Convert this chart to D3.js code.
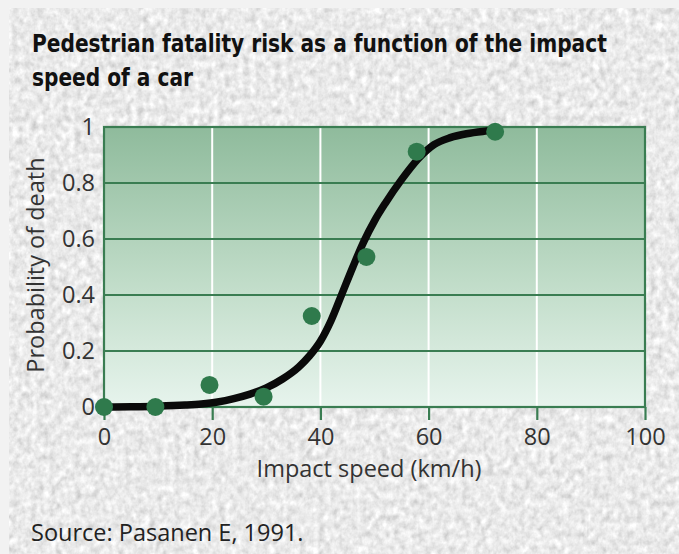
<!DOCTYPE html>
<html>
<head>
<meta charset="utf-8">
<script src="https://cdn.jsdelivr.net/npm/d3@7"></script>
<style>
  html, body { margin: 0; padding: 0; background: #f2f2f2; }
  svg { display: block; }
</style>
</head>
<body>
<svg id="chart" width="679" height="554"></svg>
<script>
// ---- Data ----
const titleLines = ["Pedestrian fatality risk as a function of the impact", "speed of a car"];
const xTicks = [0, 20, 40, 60, 80, 100];
const yTicks = [0, 0.2, 0.4, 0.6, 0.8, 1];
const yTickLabels = ["0", "0.2", "0.4", "0.6", "0.8", "1"];
const xLabel = "Impact speed (km/h)";
const yLabel = "Probability of death";
const sourceText = "Source: Pasanen E, 1991.";
// observed points (speed km/h, probability)
const obsSpeed = [0, 9.5, 19.5, 29.5, 38.4, 48.5, 57.8, 72.3];
const obsProb  = [0, 0, 0.079, 0.037, 0.325, 0.536, 0.912, 0.983];
// fitted curve
const curveSpeed = [0, 5, 10, 15, 18, 21, 24, 27, 30, 33, 36, 38, 40, 42, 44, 46, 48, 50, 52, 55, 58, 61, 64, 67, 70, 72.5];
const curveProb  = [0, 0.001, 0.003, 0.007, 0.011, 0.018, 0.03, 0.046, 0.068, 0.1, 0.143, 0.183, 0.235, 0.31, 0.405, 0.5, 0.59, 0.665, 0.728, 0.812, 0.885, 0.937, 0.962, 0.976, 0.984, 0.988];

// ---- Layout ----
const svg = d3.select("#chart");
const W = 679, H = 554;
const plot = { left: 104, right: 645, top: 127, bottom: 407 };
const bodyFont = "'Open Sans', sans-serif";
const bodySize = 23.5;

const x = d3.scaleLinear().domain([0, 100]).range([plot.left, plot.right]);
const y = d3.scaleLinear().domain([0, 1]).range([plot.bottom, plot.top]);

const defs = svg.append("defs");

// stone texture filter
const f = defs.append("filter").attr("id", "stone")
  .attr("x", 0).attr("y", 0).attr("width", "100%").attr("height", "100%");
f.append("feTurbulence").attr("type", "fractalNoise").attr("baseFrequency", "0.16 0.13")
  .attr("numOctaves", 3).attr("seed", 11).attr("result", "noise");
f.append("feColorMatrix").attr("type", "matrix")
  .attr("values", "0.5 0.5 0 0 0.25  0.5 0.5 0 0 0.25  0.5 0.5 0 0 0.25  0 0 0 0 1")
  .attr("result", "gray");
f.append("feComponentTransfer").call(ct => {
  ["feFuncR", "feFuncG", "feFuncB"].forEach(fn =>
    ct.append(fn).attr("type", "linear").attr("slope", 0.75).attr("intercept", 0.26));
});

const grad = defs.append("linearGradient").attr("id", "plotGrad")
  .attr("x1", 0).attr("y1", 0).attr("x2", 0).attr("y2", 1);
grad.append("stop").attr("offset", "0%").attr("stop-color", "#8fbb9c");
grad.append("stop").attr("offset", "55%").attr("stop-color", "#c0dcc8");
grad.append("stop").attr("offset", "100%").attr("stop-color", "#e7f4ed");

// background
svg.append("rect").attr("width", W).attr("height", H).attr("fill", "#f2f2f2");
svg.append("rect").attr("x", 9).attr("y", 8).attr("width", W - 9).attr("height", H - 8)
  .attr("fill", "#c8c8c8").attr("filter", "url(#stone)");

// title (bold, condensed to the reference width)
const title = svg.append("text")
  .attr("font-family", "'DejaVu Sans', sans-serif")
  .style("font-stretch", "condensed")
  .attr("font-weight", "bold").attr("font-size", 25.5).attr("fill", "#111");
const tsp = title.selectAll("tspan").data(titleLines).join("tspan")
  .attr("x", 0).attr("y", (d, i) => 52 + i * 34).text(d => d);
const w1 = tsp.nodes()[0].getComputedTextLength();
const sx = 575 / w1;
title.attr("transform", `translate(32,0) scale(${sx},1)`);

// plot background
svg.append("rect").attr("x", plot.left).attr("y", plot.top)
  .attr("width", plot.right - plot.left).attr("height", plot.bottom - plot.top)
  .attr("fill", "url(#plotGrad)");

const green = "#3a7d52";

// vertical white gridlines
svg.append("g").selectAll("line").data(xTicks.filter(d => d > 0 && d < 100)).join("line")
  .attr("x1", d => x(d)).attr("x2", d => x(d))
  .attr("y1", plot.top).attr("y2", plot.bottom)
  .attr("stroke", "#ffffff").attr("stroke-width", 2);

// horizontal green gridlines
svg.append("g").selectAll("line").data(yTicks.filter(d => d > 0 && d < 1)).join("line")
  .attr("x1", plot.left).attr("x2", plot.right)
  .attr("y1", d => y(d)).attr("y2", d => y(d))
  .attr("stroke", green).attr("stroke-width", 2.2);

// frame
svg.append("rect").attr("x", plot.left).attr("y", plot.top)
  .attr("width", plot.right - plot.left).attr("height", plot.bottom - plot.top)
  .attr("fill", "none").attr("stroke", green).attr("stroke-width", 2.2);

// x axis
const xAxis = d3.axisBottom(x).tickValues(xTicks).tickSize(13).tickPadding(8).tickFormat(d3.format("d"));
const gx = svg.append("g").attr("transform", `translate(0,${plot.bottom})`).call(xAxis);
gx.select(".domain").remove();
gx.selectAll(".tick line").attr("stroke", green).attr("stroke-width", 2.2);
gx.selectAll(".tick text").attr("font-family", bodyFont).attr("font-size", bodySize)
  .attr("fill", "#333");

// y axis
const yAxis = d3.axisLeft(y).tickValues(yTicks).tickSize(0).tickPadding(9)
  .tickFormat((d, i) => yTickLabels[i]);
const gy = svg.append("g").attr("transform", `translate(${plot.left},0)`).call(yAxis);
gy.select(".domain").remove();
gy.selectAll(".tick text").attr("font-family", bodyFont).attr("font-size", bodySize)
  .attr("fill", "#333");

// axis titles
svg.append("text").attr("x", x(49)).attr("y", 477).attr("text-anchor", "middle")
  .attr("font-family", bodyFont).attr("font-size", bodySize).attr("fill", "#333")
  .text(xLabel);
svg.append("text").attr("transform", `translate(44,${(plot.top + plot.bottom) / 2 - 2}) rotate(-90)`)
  .attr("text-anchor", "middle")
  .attr("font-family", bodyFont).attr("font-size", bodySize).attr("fill", "#333")
  .text(yLabel);

// curve
const curveData = curveSpeed.map((s, i) => [s, curveProb[i]]);
svg.append("path").datum(curveData)
  .attr("d", d3.line().x(d => x(d[0])).y(d => y(d[1])).curve(d3.curveMonotoneX))
  .attr("fill", "none").attr("stroke", "#0a0a0a").attr("stroke-width", 7.5)
  .attr("stroke-linecap", "round");

// points
const pts = obsSpeed.map((s, i) => [s, obsProb[i]]);
svg.append("g").selectAll("circle").data(pts).join("circle")
  .attr("cx", d => x(d[0])).attr("cy", d => y(d[1])).attr("r", 9)
  .attr("fill", "#2f7a4c");

// source
svg.append("text").attr("x", 31).attr("y", 541)
  .attr("font-family", bodyFont).attr("font-size", bodySize).attr("fill", "#222")
  .text(sourceText);
</script>
</body>
</html>
